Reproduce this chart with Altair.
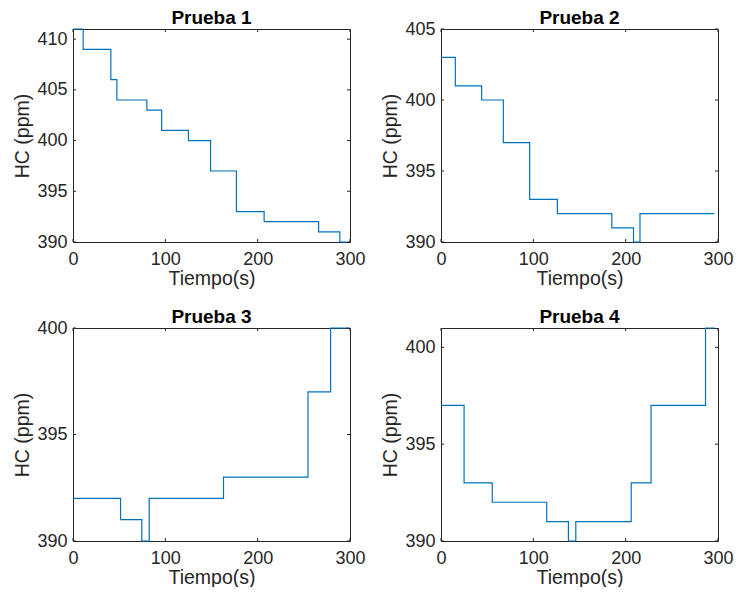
import altair as alt
import pandas as pd

# ---- data ----
x_ticks = [0, 100, 200, 300]

p1_t = [0, 11, 41, 47.5, 80, 96, 125, 149, 177, 207, 266, 289, 296]
p1_v = [411, 409, 406, 404, 403, 401, 400, 397, 393, 392, 391, 390, 390]

p2_t = [0, 15.5, 44, 67.5, 96, 126, 185, 208.5, 215.5, 296]
p2_v = [403, 401, 400, 397, 393, 392, 391, 390, 392, 392]

p3_t = [0, 51.5, 74.5, 82.5, 163, 254.5, 279, 297.5]
p3_v = [392, 391, 390, 392, 393, 397, 400, 400]

p4_t = [0, 25, 55.5, 114.5, 138, 146, 206, 227.5, 286.5, 296.5]
p4_v = [397, 393, 392, 391, 390, 391, 393, 397, 401, 401]

titles = ["Prueba 1", "Prueba 2", "Prueba 3", "Prueba 4"]
y_domains = [[390, 411], [390, 405], [390, 400], [390, 401]]
y_ticks = [[390, 395, 400, 405, 410], [390, 395, 400, 405], [390, 395, 400], [390, 395, 400]]

W, H = 277, 213
FONT = "Liberation Sans"
TXT = "#262626"
LINE = "#0072BD"
TK = 3


def panel(t, v, ydom, yticks, title):
    df = pd.DataFrame({"t": t, "hc": v})
    xs = alt.Scale(domain=[0, 300], nice=False, zero=False)
    ys = alt.Scale(domain=ydom, nice=False, zero=False)
    xa = alt.Axis(values=x_ticks, title="Tiempo(s)", labelPadding=8, titlePadding=1, labelFlush=False)
    ya = alt.Axis(values=yticks, title="HC (ppm)", labelPadding=6, titlePadding=4, labelFlush=False)
    line = alt.Chart(df).mark_line(color=LINE, strokeWidth=1.2, interpolate="step-after").encode(
        x=alt.X("t:Q", scale=xs, axis=xa),
        y=alt.Y("hc:Q", scale=ys, axis=ya),
    )
    xt = pd.DataFrame({"x": x_ticks})
    yt = pd.DataFrame({"y": yticks})
    rule = dict(color=TXT, strokeWidth=1)
    bottom = alt.Chart(xt).mark_rule(**rule).encode(
        x=alt.X("x:Q", scale=xs, axis=xa), y=alt.value(H), y2=alt.value(H - TK))
    top = alt.Chart(xt).mark_rule(**rule).encode(
        x=alt.X("x:Q", scale=xs, axis=xa), y=alt.value(0), y2=alt.value(TK))
    left = alt.Chart(yt).mark_rule(**rule).encode(
        y=alt.Y("y:Q", scale=ys, axis=ya), x=alt.value(0), x2=alt.value(TK))
    right = alt.Chart(yt).mark_rule(**rule).encode(
        y=alt.Y("y:Q", scale=ys, axis=ya), x=alt.value(W), x2=alt.value(W - TK))
    ttl = alt.Chart(pd.DataFrame({"title": [title]})).mark_text(
        font=FONT, fontSize=19, fontWeight="bold", color="#000000",
        align="center", baseline="alphabetic",
    ).encode(text="title:N", x=alt.value(W / 2), y=alt.value(-5))
    return alt.layer(line, bottom, top, left, right, ttl).properties(width=W, height=H)


data = [(p1_t, p1_v), (p2_t, p2_v), (p3_t, p3_v), (p4_t, p4_v)]
panels = [panel(t, v, y_domains[i], y_ticks[i], titles[i]) for i, (t, v) in enumerate(data)]

chart = alt.concat(
    *panels, columns=2, spacing=alt.RowColnumber(row=86, column=91), bounds="flush"
).properties(
    padding={"left": 4, "top": 0, "right": 0, "bottom": 0}
).configure_axis(
    labelFont=FONT, labelFontSize=18, labelColor=TXT,
    titleFont=FONT, titleFontSize=19.5, titleColor=TXT, titleFontWeight="normal",
    ticks=False, domain=False, grid=False,
).configure_view(
    stroke=TXT, strokeWidth=1,
)

chart.save("out.html", embed_options={"renderer": "svg", "actions": False})
